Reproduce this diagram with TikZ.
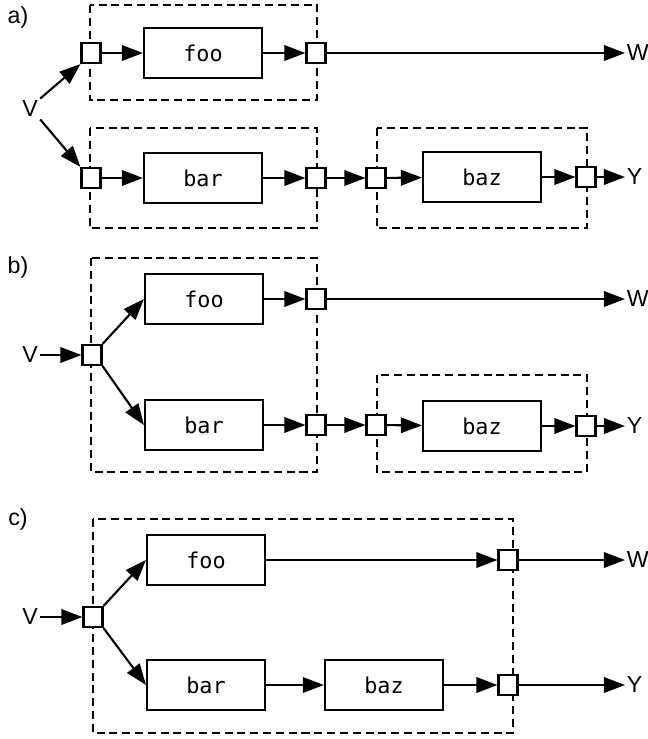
\documentclass[tikz,border=0pt]{standalone}
\usepackage{fontspec}
\setmainfont{Liberation Sans}
\setmonofont{DejaVu Sans Mono}
\usetikzlibrary{arrows.meta,positioning}

\begin{document}
\begin{tikzpicture}[>={Triangle[length=15pt,width=11pt]}, line width=1.5pt, x=0.025cm, y=-0.025cm]

    \tikzstyle{blk} = [rectangle, draw=black, minimum width=2.95cm, minimum height=1.25cm, inner sep=0pt, font=\fontsize{15.5}{18}\selectfont\ttfamily]
    \tikzstyle{port} = [rectangle, draw=black, fill=white, minimum width=0.475cm, minimum height=0.5cm, inner sep=0pt]
    \tikzstyle{grp} = [draw=black, line width=1.4pt, dash pattern=on 0.2cm off 0.12cm]
    \tikzstyle{lbl} = [inner sep=1pt, font=\fontsize{16.5}{19}\selectfont]
    \tikzstyle{sink} = [lbl, anchor=west, inner sep=0.5pt]

    \useasboundingbox (0,0) rectangle (648,739);

    % a)
    \node (taga)  [lbl] at (18,17)                {a)};
    \draw[grp] (90,5) rectangle (317,100);
    \draw[grp] (90,128) rectangle (317,228);
    \draw[grp] (377,128) rectangle (587,228);

    \node (Va)    [lbl] at (30,109)               {V};
    \node (pa1)   [port] at (91,53)               {};
    \node (fooa)  [blk] at (203,53)               {foo};
    \node (pa2)   [port] at (316,53)              {};
    \node (Wa)    [sink] at (625,53)              {W};
    \node (pa3)   [port] at (91,178)              {};
    \node (bara)  [blk] at (203,178)              {bar};
    \node (pa4)   [port] at (316,178)             {};
    \node (pa5)   [port] at (376,178)             {};
    \node (baza)  [blk] at (482,177)              {baz};
    \node (pa6)   [port] at (586,177)             {};
    \node (Ya)    [sink] at (625,177)             {Y};

    \draw[->] (Va.north east) -- (pa1.south west);
    \draw[->] (Va.south east) -- (pa3.north west);
    \draw[->] (pa1) -- (fooa);
    \draw[->] (fooa) -- (pa2);
    \draw[->] (pa2) -- (Wa);
    \draw[->] (pa3) -- (bara);
    \draw[->] (bara) -- (pa4);
    \draw[->] (pa4) -- (pa5);
    \draw[->] (pa5) -- (baza);
    \draw[->] (baza) -- (pa6);
    \draw[->] (pa6) -- (Ya);

    % b)
    \node (tagb)  [lbl] at (18,267)               {b)};
    \draw[grp] (91,258) rectangle (317,472);
    \draw[grp] (377,375) rectangle (587,472);

    \node (Vb)    [lbl] at (30,355)               {V};
    \node (pb1)   [port] at (92,355)              {};
    \node (foob)  [blk] at (204,299)              {foo};
    \node (pb2)   [port] at (316,299)             {};
    \node (Wb)    [sink] at (625,299)             {W};
    \node (barb)  [blk] at (204,425)              {bar};
    \node (pb3)   [port] at (316,425)             {};
    \node (pb4)   [port] at (376,425)             {};
    \node (bazb)  [blk] at (482,426)              {baz};
    \node (pb5)   [port] at (586,426)             {};
    \node (Yb)    [sink] at (625,426)             {Y};

    \draw[->] (Vb) -- (pb1);
    \draw[->] (pb1.north east) -- (foob.west);
    \draw[->] (pb1.south east) -- (barb.west);
    \draw[->] (foob) -- (pb2);
    \draw[->] (pb2) -- (Wb);
    \draw[->] (barb) -- (pb3);
    \draw[->] (pb3) -- (pb4);
    \draw[->] (pb4) -- (bazb);
    \draw[->] (bazb) -- (pb5);
    \draw[->] (pb5) -- (Yb);

    % c)
    \node (tagc)  [lbl] at (18,519)               {c)};
    \draw[grp] (93,519) rectangle (513,733);

    \node (Vc)    [lbl] at (30,617)               {V};
    \node (pc1)   [port] at (93,617)              {};
    \node (fooc)  [blk] at (206,560)              {foo};
    \node (barc)  [blk] at (206,685)              {bar};
    \node (bazc)  [blk] at (384,685)              {baz};
    \node (pc2)   [port] at (508,560)             {};
    \node (Wc)    [sink] at (625,560)             {W};
    \node (pc3)   [port] at (508,685)             {};
    \node (Yc)    [sink] at (625,685)             {Y};

    \draw[->] (Vc) -- (pc1);
    \draw[->] (pc1.north east) -- (fooc.west);
    \draw[->] (pc1.south east) -- (barc.west);
    \draw[->] (fooc) -- (pc2);
    \draw[->] (pc2) -- (Wc);
    \draw[->] (barc) -- (bazc);
    \draw[->] (bazc) -- (pc3);
    \draw[->] (pc3) -- (Yc);
\end{tikzpicture}
\end{document}
